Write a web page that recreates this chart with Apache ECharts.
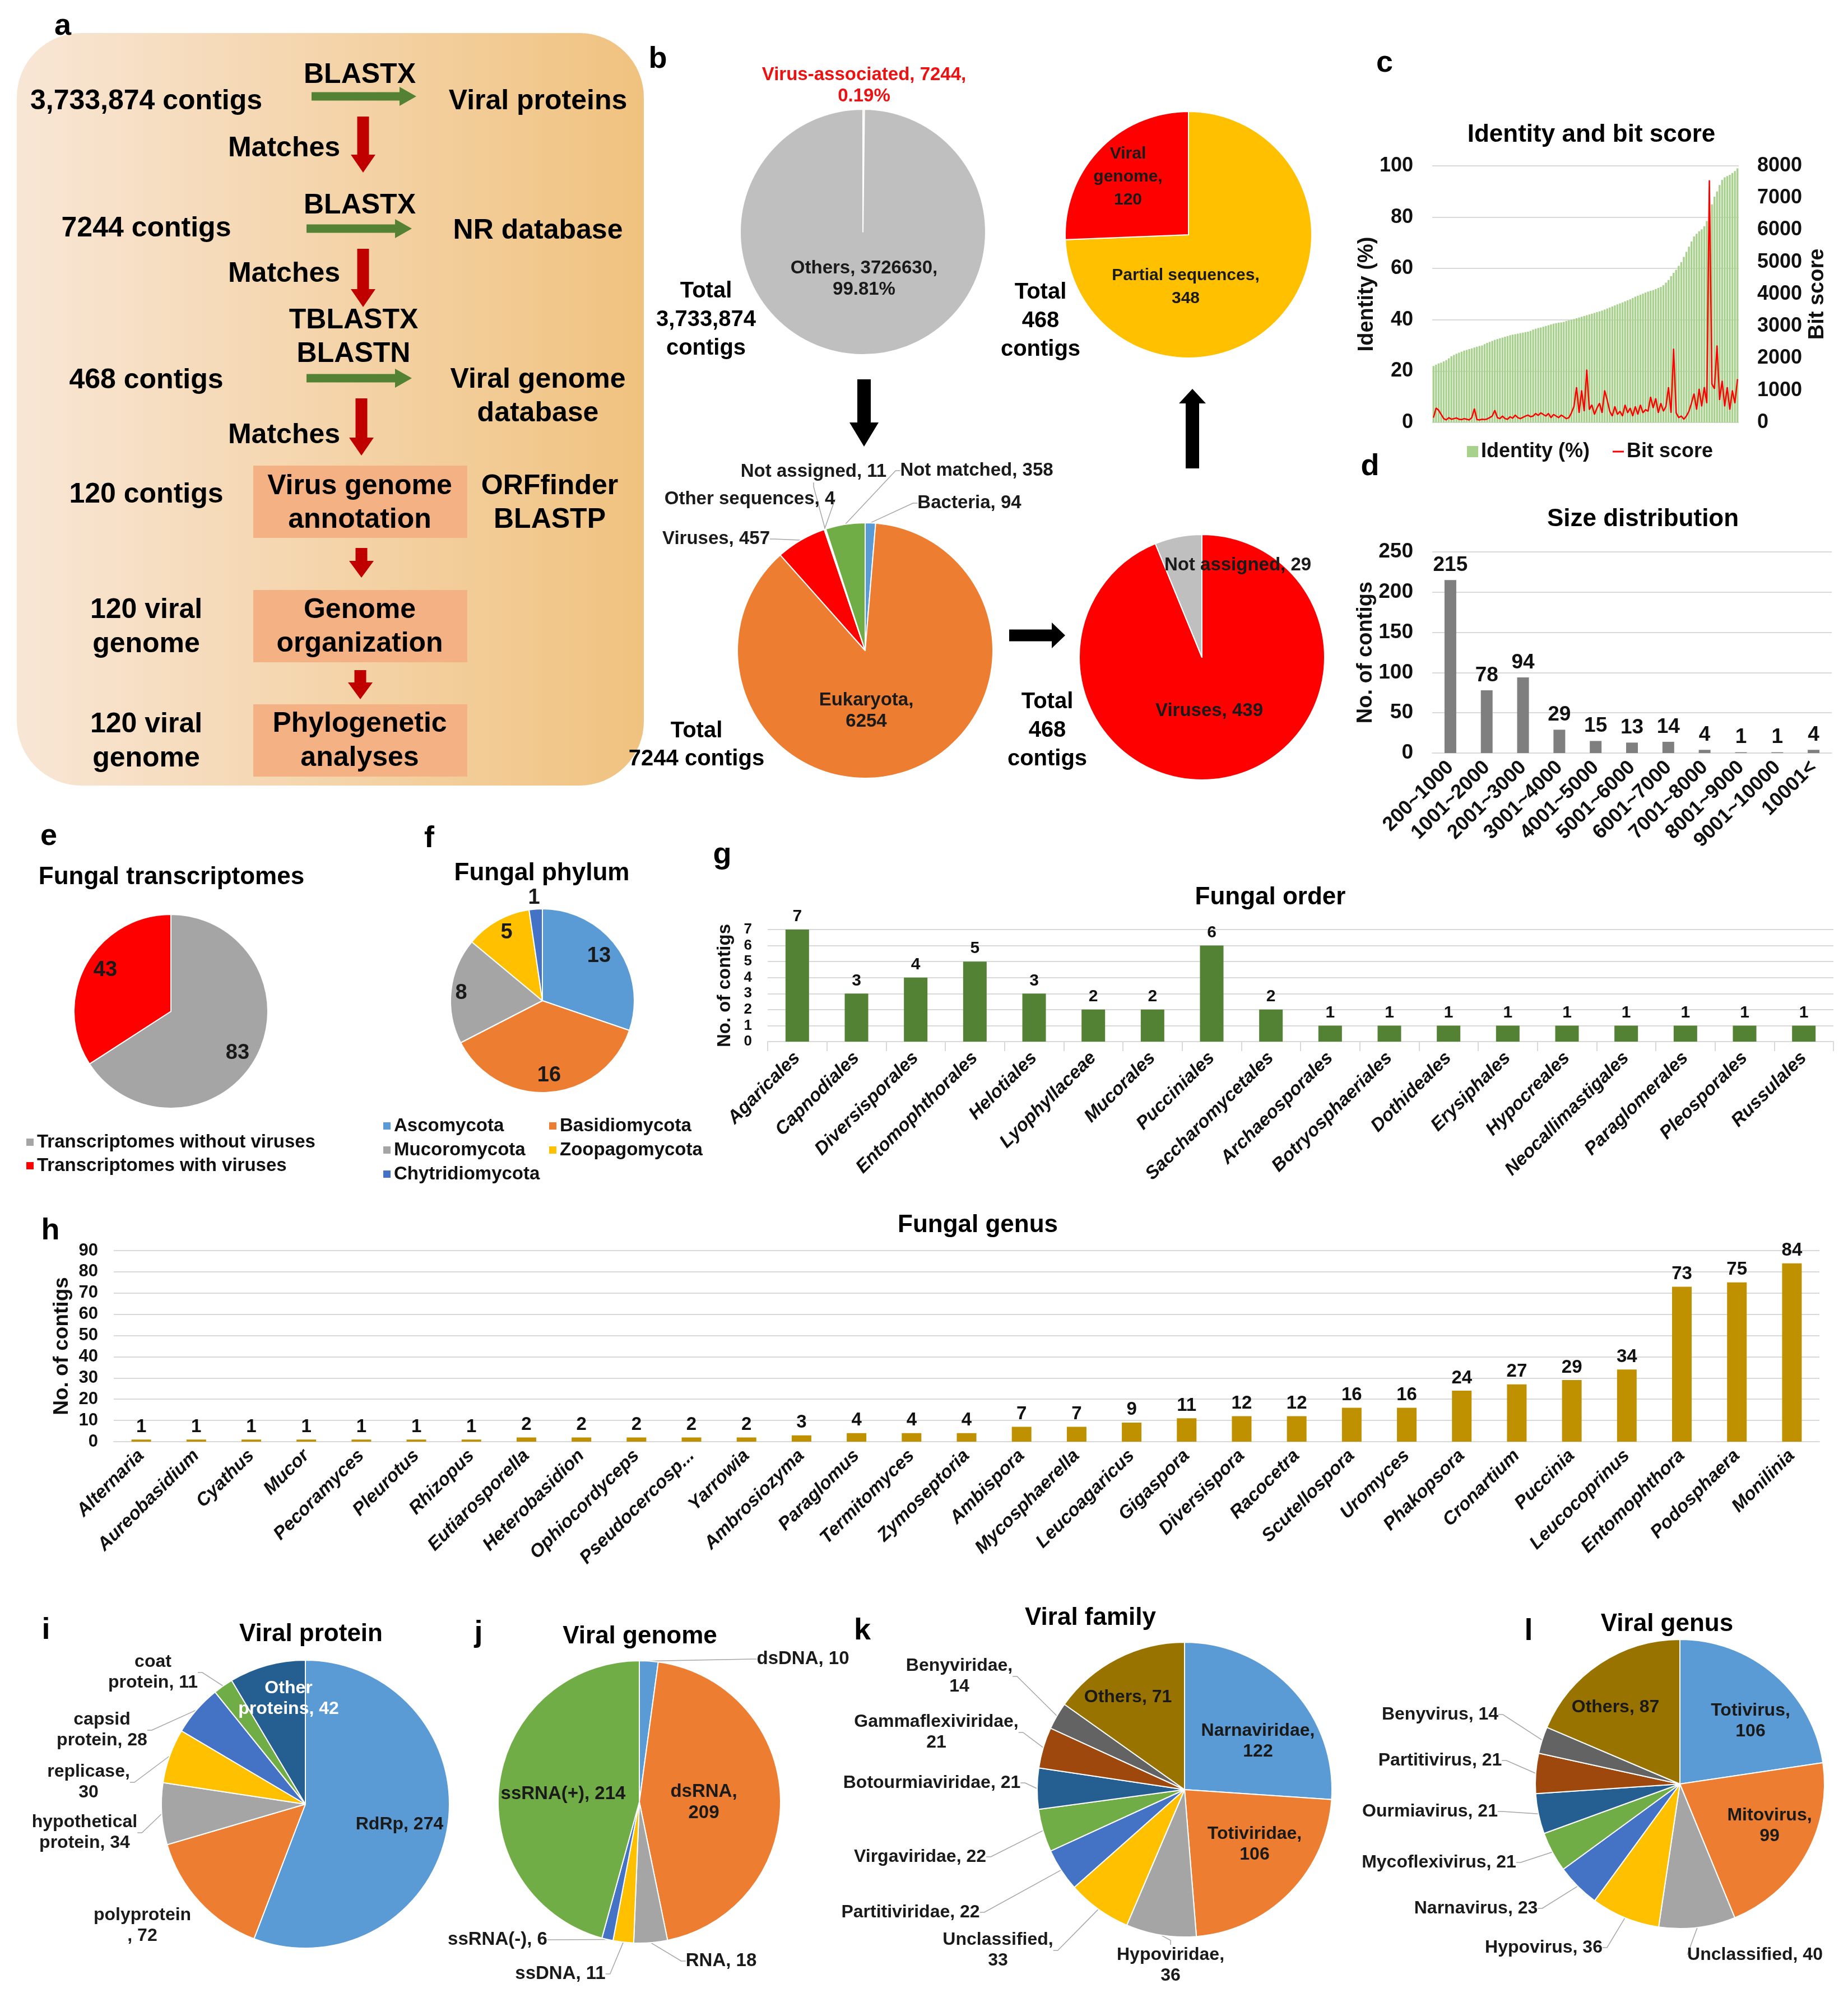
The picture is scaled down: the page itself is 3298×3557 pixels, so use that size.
<!DOCTYPE html>
<html><head><meta charset="utf-8">
<script src="https://cdn.jsdelivr.net/npm/echarts@6/dist/echarts.min.js"></script>
<style>html,body{margin:0;padding:0;background:#fff}#c{width:3298px;height:3557px}</style>
</head><body><div id="c"></div>
<script>
const FONT = '"Liberation Sans", Arial, Helvetica, sans-serif';

// ---- c: identity and bit score (sorted by identity) ----
const identityPct = [22.0,22.5,23.0,23.3,23.8,24.3,25.0,25.8,26.3,26.8,
27.2,27.6,28.0,28.3,28.6,28.9,29.2,29.5,29.8,30.0,
30.5,31.0,31.4,31.8,32.2,32.5,32.8,33.1,33.4,33.7,
34.0,34.2,34.4,34.6,34.8,35.0,35.2,35.4,35.7,36.2,
36.5,36.8,37.0,37.3,37.6,37.9,38.2,38.5,38.7,38.9,
39.0,39.2,39.5,39.8,40.0,40.3,40.6,40.9,41.2,41.5,
41.8,42.1,42.4,42.7,43.0,43.3,43.6,44.0,44.4,44.8,
45.2,45.6,46.0,46.4,46.8,47.2,47.6,48.0,48.5,49.0,
49.4,49.8,50.2,50.6,51.0,51.3,51.6,52.0,52.4,52.8,
53.5,54.5,55.5,57.0,58.3,59.5,61.0,62.5,64.5,66.5,
68.5,70.5,72.5,73.5,74.5,75.3,76.5,78.5,81.5,85.0,
88.0,90.0,92.5,94.5,95.5,96.0,96.5,97.2,98.0,99.0];
const bitScore = [150,450,380,250,120,80,150,100,120,140,
100,90,120,100,80,150,430,90,80,100,
90,110,150,200,380,150,120,200,120,100,
180,130,230,150,120,160,200,230,180,200,
280,220,300,250,200,280,150,250,200,150,
230,180,120,150,300,500,1100,300,1000,350,
1650,400,550,250,450,600,300,1000,700,350,
200,500,250,350,200,550,300,450,200,500,
250,550,300,400,350,800,450,750,300,600,
350,500,1100,300,2300,300,150,200,100,200,
350,600,900,400,1050,500,1100,600,7550,1200,
1050,2400,700,1300,500,1100,400,1000,600,1350];

// ---- d: size distribution ----
const sizeBins = ['200~1000','1001~2000','2001~3000','3001~4000','4001~5000','5001~6000','6001~7000','7001~8000','8001~9000','9001~10000','10001<'];
const sizeCounts = [215,78,94,29,15,13,14,4,1,1,4];

// ---- b: pies ----
const allNames = ['Virus-associated','Others'];
const allValues = [7244,3726630];
const genomeStatusNames = ['Partial sequences','Viral genome'];
const genomeStatusValues = [348,120];
const nrNames = ['Bacteria','Eukaryota','Viruses','Other sequences','Not assigned','Not matched'];
const nrValues = [94,6254,457,4,11,358];
const virNames = ['Viruses','Not assigned'];
const virValues = [439,29];

// ---- e, f ----
const transNames = ['Transcriptomes without viruses','Transcriptomes with viruses'];
const transValues = [83,43];
const phylumNames = ['Ascomycota','Basidiomycota','Mucoromycota','Zoopagomycota','Chytridiomycota'];
const phylumValues = [13,16,8,5,1];

// ---- g: fungal order ----
const orderNames = ['Agaricales','Capnodiales','Diversisporales','Entomophthorales','Helotiales','Lyophyllaceae','Mucorales','Pucciniales','Saccharomycetales','Archaeosporales','Botryosphaeriales','Dothideales','Erysiphales','Hypocreales','Neocallimastigales','Paraglomerales','Pleosporales','Russulales'];
const orderCounts = [7,3,4,5,3,2,2,6,2,1,1,1,1,1,1,1,1,1];

// ---- h: fungal genus ----
const genusNames = ['Alternaria','Aureobasidium','Cyathus','Mucor','Pecoramyces','Pleurotus','Rhizopus','Eutiarosporella','Heterobasidion','Ophiocordyceps','Pseudocercosp...','Yarrowia','Ambrosiozyma','Paraglomus','Termitomyces','Zymoseptoria','Ambispora','Mycosphaerella','Leucoagaricus','Gigaspora','Diversispora','Racocetra','Scutellospora','Uromyces','Phakopsora','Cronartium','Puccinia','Leucocoprinus','Entomophthora','Podosphaera','Monilinia'];
const genusCounts = [1,1,1,1,1,1,1,2,2,2,2,2,3,4,4,4,7,7,9,11,12,12,16,16,24,27,29,34,73,75,84];

// ---- i, j, k, l ----
const proteinNames = ['RdRp','polyprotein','hypothetical protein','replicase','capsid protein','coat protein','Other proteins'];
const proteinValues = [274,72,34,30,28,11,42];
const genomeTypeNames = ['dsDNA','dsRNA','RNA','ssDNA','ssRNA(-)','ssRNA(+)'];
const genomeTypeValues = [10,209,18,11,6,214];
const familyNames = ['Narnaviridae','Totiviridae','Hypoviridae','Unclassified','Partitiviridae','Virgaviridae','Botourmiaviridae','Gammaflexiviridae','Benyviridae','Others'];
const familyValues = [122,106,36,33,22,22,21,21,14,71];
const vgenusNames = ['Totivirus','Mitovirus','Unclassified','Hypovirus','Narnavirus','Mycoflexivirus','Ourmiavirus','Partitivirus','Benyvirus','Others'];
const vgenusValues = [106,99,40,36,23,21,21,21,14,87];

// ---------------- styling helpers ----------------
const OFF = ['#5b9bd5','#ed7d31','#a5a5a5','#ffc000','#4472c4','#70ad47','#255e91','#9e480e','#636363','#997300'];
const TXT = '#111';
const plain = v => String(v);
function lbl(fs, extra){ return Object.assign({fontFamily:FONT, fontWeight:'bold', fontSize:fs, color:TXT}, extra||{}); }
const gridLine = {show:true, lineStyle:{color:'#d9d9d9', width:2}};
const noLine = {show:false};

function pie(o){
  const data = o.names.map((n,i)=>({
    name:n, value:o.values[i],
    itemStyle:{color:o.colors[i]},
    label:{formatter:o.fmt[i], color:(o.tc && o.tc[i]) || '#1a1a1a'},
    labelLine:{show: !!(o.lines && o.lines[i])}
  }));
  return {
    type:'pie', center:o.center, radius:o.r, startAngle:90, clockwise:true,
    avoidLabelOverlap:false, silent:true, animation:false,
    itemStyle:{borderColor:'#fff', borderWidth:2},
    label:{show:true, position:'outside', fontFamily:FONT, fontWeight:'bold', fontSize:o.fs, lineHeight:o.lh || Math.round(o.fs*1.15), align:'center'},
    labelLine:{show:true, length:8, length2:8, lineStyle:{color:'#a6a6a6', width:1.5}},
    labelLayout:function(p){ const P = o.pos[p.dataIndex]; return {x:P[0], y:P[1], align:'center', verticalAlign:'middle'}; },
    data:data
  };
}

// --------- graphic helpers ---------
function txt(x,y,t,fs,color,lh){
  return {type:'text', x:x, y:y, z:10, silent:true,
    style:{text:t, font:'bold '+fs+'px '+FONT, fill:color||'#000', align:'center', verticalAlign:'middle', lineHeight:lh||Math.round(fs*1.2)}};
}
function poly(points,color){ return {type:'polygon', z:9, silent:true, shape:{points:points}, style:{fill:color}}; }
function arrowDown(cx,y0,y1,sw,hw,hl,c){
  return poly([[cx-sw/2,y0],[cx+sw/2,y0],[cx+sw/2,y1-hl],[cx+hw/2,y1-hl],[cx,y1],[cx-hw/2,y1-hl],[cx-sw/2,y1-hl]],c);
}
function arrowUp(cx,y0,y1,sw,hw,hl,c){ // y0 bottom, y1 tip
  return poly([[cx-sw/2,y0],[cx+sw/2,y0],[cx+sw/2,y1+hl],[cx+hw/2,y1+hl],[cx,y1],[cx-hw/2,y1+hl],[cx-sw/2,y1+hl]],c);
}
function arrowRight(x0,x1,cy,sh,hh,hl,c){
  return poly([[x0,cy-sh/2],[x1-hl,cy-sh/2],[x1-hl,cy-hh/2],[x1,cy],[x1-hl,cy+hh/2],[x1-hl,cy+sh/2],[x0,cy+sh/2]],c);
}
function box(x,y,w,h){ return {type:'rect', z:8, silent:true, shape:{x:x,y:y,width:w,height:h}, style:{fill:'#f4b183'}}; }

const RED = '#c00000', GRN = '#548235';
const G = [];
// panel a background
G.push({type:'rect', z:1, silent:true, shape:{x:30,y:59,width:1119,height:1343,r:115},
  style:{fill:new echarts.graphic.LinearGradient(0,0,1,0,[{offset:0,color:'#f8e6d5'},{offset:1,color:'#f0c27f'}])}});
G.push(txt(642,134,'BLASTX',50));
G.push(arrowRight(556,743,172,15,34,30,GRN));
G.push(txt(261,181,'3,733,874 contigs',50));
G.push(txt(960,181,'Viral proteins',50));
G.push(txt(507,265,'Matches',50));
G.push(arrowDown(648,208,308,21,44,32,RED));
G.push(txt(642,367,'BLASTX',50));
G.push(arrowRight(547,735,408,15,34,30,GRN));
G.push(txt(261,408,'7244 contigs',50));
G.push(txt(960,412,'NR database',50));
G.push(txt(507,489,'Matches',50));
G.push(arrowDown(648,444,548,21,44,32,RED));
G.push(txt(631,572,'TBLASTX',50));
G.push(txt(631,632,'BLASTN',50));
G.push(arrowRight(547,735,675,15,34,30,GRN));
G.push(txt(261,679,'468 contigs',50));
G.push(txt(960,708,'Viral genome\ndatabase',50,'#000',60));
G.push(txt(507,777,'Matches',50));
G.push(arrowDown(645,711,813,21,44,32,RED));
G.push(box(452,831,382,129));
G.push(txt(642,898,'Virus genome\nannotation',50,'#000',60));
G.push(txt(261,883,'120 contigs',50));
G.push(txt(981,898,'ORFfinder\nBLASTP',50,'#000',60));
G.push(arrowDown(645,978,1031,21,44,30,RED));
G.push(box(452,1053,382,129));
G.push(txt(642,1119,'Genome\norganization',50,'#000',60));
G.push(txt(261,1120,'120 viral\ngenome',50,'#000',61));
G.push(arrowDown(643,1196,1248,21,44,30,RED));
G.push(box(452,1257,382,129));
G.push(txt(642,1323,'Phylogenetic\nanalyses',50,'#000',61));
G.push(txt(261,1324,'120 viral\ngenome',50,'#000',61));
// panel b texts and arrows
G.push(txt(1260,571,'Total\n3,733,874\ncontigs',40,'#000',51));
G.push(txt(1857,573,'Total\n468\ncontigs',40,'#000',51));
G.push(txt(1243,1330,'Total\n7244 contigs',40,'#000',50));
G.push(txt(1869,1304,'Total\n468\ncontigs',40,'#000',51));
G.push(arrowDown(1542,677,797,24,52,43,'#000'));
G.push(arrowUp(2128,836,694,24,48,26,'#000'));
G.push(arrowRight(1801,1901,1134,21,46,24,'#000'));
// panel letters
[['a',112,47],['b',1174,106],['c',2471,113],['d',2445,833],['e',87,1493],['f',766,1497],['g',1289,1526],['h',90,2197],['i',82,2910],['j',854,2915],['k',1539,2911],['l',2728,2912]]
  .forEach(a=>G.push(txt(a[1],a[2],a[0],54)));

function title(t,x,y){ return {text:t, left:x, top:y-23, textAlign:'center', padding:0,
  textStyle:{fontFamily:FONT, fontWeight:'bold', fontSize:44, color:'#000'}}; }

const option = {
  animation:false,
  backgroundColor:'#fff',
  textStyle:{fontFamily:FONT},
  title:[
    title('Identity and bit score',2840,242),
    title('Size distribution',2932,928),
    title('Fungal transcriptomes',306,1567),
    title('Fungal phylum',967,1560),
    title('Fungal order',2267,1603),
    title('Fungal genus',1745,2188),
    title('Viral protein',555,2918),
    title('Viral genome',1142,2922),
    title('Viral family',1946,2889),
    title('Viral genus',2975,2900)
  ],
  legend:[
    {data:['Identity (%)'], left:2618, top:788, icon:'rect', itemWidth:20, itemHeight:20, itemGap:0, selectedMode:false, padding:0, textStyle:lbl(36)},
    {data:['Bit score'], left:2878, top:788, icon:'rect', itemWidth:20, itemHeight:3, selectedMode:false, padding:0, textStyle:lbl(36)},
    {data:transNames, orient:'vertical', left:45, top:2022, icon:'rect', itemWidth:15, itemHeight:15, itemGap:9, selectedMode:false, padding:0, textStyle:lbl(33)},
    {data:['Ascomycota','Mucoromycota','Chytridiomycota'], orient:'vertical', left:682, top:1993, icon:'rect', itemWidth:15, itemHeight:15, itemGap:10, selectedMode:false, padding:0, textStyle:lbl(33)},
    {data:['Basidiomycota','Zoopagomycota'], orient:'vertical', left:978, top:1993, icon:'rect', itemWidth:15, itemHeight:15, itemGap:10, selectedMode:false, padding:0, textStyle:lbl(33)}
  ],
  grid:[
    {left:2556, top:296, width:547, height:458, outerBoundsMode:'none'},
    {left:2556, top:985, width:713, height:359, outerBoundsMode:'none'},
    {left:1370, top:1659, width:1902, height:200, outerBoundsMode:'none'},
    {left:203, top:2232, width:3044, height:341, outerBoundsMode:'none'}
  ],
  xAxis:[
    {gridIndex:0, type:'category', data:identityPct.map((_,i)=>i+1), axisLine:noLine, axisTick:noLine, axisLabel:noLine, splitLine:noLine},
    {gridIndex:1, type:'category', data:sizeBins, axisLine:{lineStyle:{color:'#d9d9d9',width:2}}, axisTick:noLine,
      axisLabel:lbl(36,{rotate:45, interval:0, margin:20})},
    {gridIndex:2, type:'category', data:orderNames, axisLine:{lineStyle:{color:'#d9d9d9',width:2}},
      axisTick:{show:true, length:17, lineStyle:{color:'#d9d9d9',width:2}},
      axisLabel:lbl(33,{rotate:45, interval:0, margin:24, fontStyle:'italic'})},
    {gridIndex:3, type:'category', data:genusNames, axisLine:{lineStyle:{color:'#d9d9d9',width:2}}, axisTick:noLine,
      axisLabel:lbl(33,{rotate:45, interval:0, margin:20, fontStyle:'italic'})}
  ],
  yAxis:[
    {gridIndex:0, type:'value', min:0, max:100, interval:20, position:'left', name:'Identity (%)', nameLocation:'middle', nameGap:96,
      nameTextStyle:lbl(38), axisLabel:lbl(36,{margin:34, formatter:plain}), splitLine:gridLine, axisLine:noLine, axisTick:noLine},
    {gridIndex:0, type:'value', min:0, max:8000, interval:1000, position:'right', name:'Bit score', nameLocation:'middle', nameGap:122,
      nameTextStyle:lbl(38), axisLabel:lbl(36,{margin:33, formatter:plain}), splitLine:noLine, axisLine:noLine, axisTick:noLine},
    {gridIndex:1, type:'value', min:0, max:250, interval:50, name:'No. of contigs', nameLocation:'middle', nameGap:98,
      nameTextStyle:lbl(38), axisLabel:lbl(37,{margin:34, formatter:plain}), splitLine:gridLine, axisLine:noLine, axisTick:noLine},
    {gridIndex:2, type:'value', min:0, max:7, interval:1, name:'No. of contigs', nameLocation:'middle', nameGap:60,
      nameTextStyle:lbl(33), axisLabel:lbl(26,{margin:28, formatter:plain}), splitLine:gridLine, axisLine:noLine, axisTick:noLine},
    {gridIndex:3, type:'value', min:0, max:90, interval:10, name:'No. of contigs', nameLocation:'middle', nameGap:64,
      nameTextStyle:lbl(37), axisLabel:lbl(31,{margin:28, formatter:plain}), splitLine:gridLine, axisLine:noLine, axisTick:noLine}
  ],
  graphic:{elements:G},
  series:[
    {name:'Identity (%)', type:'bar', xAxisIndex:0, yAxisIndex:0, data:identityPct, barCategoryGap:'25%', itemStyle:{color:'#a9d18e'}, silent:true},
    {name:'Bit score', type:'line', xAxisIndex:0, yAxisIndex:1, data:bitScore, symbol:'none', showSymbol:false, z:5,
      lineStyle:{color:'#ff0000', width:2.5}, itemStyle:{color:'#ff0000'}, silent:true},
    {name:'Size distribution', type:'bar', xAxisIndex:1, yAxisIndex:2, data:sizeCounts, barWidth:21, itemStyle:{color:'#7f7f7f'},
      label:lbl(37,{show:true, position:'top', distance:8}), silent:true},
    {name:'Fungal order', type:'bar', xAxisIndex:2, yAxisIndex:3, data:orderCounts, barWidth:42, itemStyle:{color:'#548235'},
      label:lbl(30,{show:true, position:'top', distance:8}), silent:true},
    {name:'Fungal genus', type:'bar', xAxisIndex:3, yAxisIndex:4, data:genusCounts, barWidth:35, itemStyle:{color:'#bf9000'},
      label:lbl(33,{show:true, position:'top', distance:6}), silent:true},
    pie({names:allNames, values:allValues, colors:['#f8cbad','#bfbfbf'], center:[1540,414], r:219, fs:33, lh:38,
      fmt:['{b}, {c},\n{d}%','{b}, {c},\n{d}%'], tc:['#ee1111','#1a1a1a'], pos:[[1542,153],[1542,498]]}),
    pie({names:genomeStatusNames, values:genomeStatusValues, colors:['#ffc000','#ff0000'], center:[2121,419], r:220, fs:30, lh:41,
      fmt:['{b},\n{c}','Viral\ngenome,\n{c}'], pos:[[2116,512],[2013,316]]}),
    pie({names:nrNames, values:nrValues, colors:['#5b9bd5','#ed7d31','#ff0000','#d9d9d9','#a5a5a5','#70ad47'], center:[1544,1161], r:228, fs:33, lh:38,
      fmt:['{b}, {c}','{b},\n{c}','{b}, {c}','{b}, {c}','{b}, {c}','{b}, {c}'],
      pos:[[1730,898],[1546,1269],[1278,962],[1338,891],[1452,842],[1743,840]], lines:[1,0,1,1,1,1]}),
    pie({names:virNames, values:virValues, colors:['#ff0000','#bfbfbf'], center:[2145,1173], r:219, fs:33,
      fmt:['{b}, {c}','{b}, {c}'], pos:[[2158,1269],[2209,1009]]}),
    pie({names:transNames, values:transValues, colors:['#a5a5a5','#ff0000'], center:[305,1805], r:173, fs:38,
      fmt:['{c}','{c}'], pos:[[424,1880],[188,1732]]}),
    pie({names:phylumNames, values:phylumValues, colors:['#5b9bd5','#ed7d31','#a5a5a5','#ffc000','#4472c4'], center:[968,1786], r:164, fs:38,
      fmt:['{c}','{c}','{c}','{c}','{c}'], pos:[[1069,1707],[980,1920],[823,1773],[904,1665],[953,1603]]}),
    pie({names:proteinNames, values:proteinValues, colors:OFF.slice(0,6).concat(['#255e91']), center:[545,3220], r:257, fs:32, lh:37,
      fmt:['{b}, {c}','polyprotein\n, {c}','hypothetical\nprotein, {c}','replicase,\n{c}','capsid\nprotein, {c}','coat\nprotein, {c}','Other\nproteins, {c}'],
      tc:[null,null,null,null,null,null,'#ffffff'],
      pos:[[713,3256],[254,3437],[151,3271],[158,3181],[182,3088],[273,2985],[515,3032]], lines:[0,0,1,1,1,1,0]}),
    pie({names:genomeTypeNames, values:genomeTypeValues, colors:OFF.slice(0,6), center:[1141,3216], r:252, fs:33, lh:38,
      fmt:['{b}, {c}','{b},\n{c}','{b}, {c}','{b}, {c}','{b}, {c}','{b}, {c}'],
      pos:[[1433,2961],[1256,3217],[1287,3500],[1000,3523],[888,3462],[1005,3202]], lines:[1,0,1,1,1,0]}),
    pie({names:familyNames, values:familyValues, colors:OFF, center:[2114,3194], r:263, fs:32, lh:37,
      fmt:['{b},\n{c}','{b},\n{c}','{b},\n{c}','{b},\n{c}','{b}, {c}','{b}, {c}','{b}, {c}','{b},\n{c}','{b},\n{c}','{b}, {c}'],
      pos:[[2245,3108],[2239,3292],[2089,3508],[1781,3481],[1625,3413],[1642,3314],[1663,3182],[1671,3092],[1712,2992],[2013,3029]],
      lines:[0,0,1,1,1,1,1,1,1,0]}),
    pie({names:vgenusNames, values:vgenusValues, colors:OFF, center:[2998,3184], r:258, fs:32, lh:37,
      fmt:['{b},\n{c}','{b},\n{c}','{b}, {c}','{b}, {c}','{b}, {c}','{b}, {c}','{b}, {c}','{b}, {c}','{b}, {c}','{b}, {c}'],
      pos:[[3124,3072],[3158,3259],[3132,3489],[2755,3476],[2634,3406],[2568,3324],[2552,3233],[2570,3142],[2570,3060],[2883,3047]],
      lines:[0,0,1,1,1,1,1,1,1,0]})
  ]
};
const chart = echarts.init(document.getElementById('c'), null, {renderer:'canvas'});
chart.setOption(option);
</script>
</body></html>
